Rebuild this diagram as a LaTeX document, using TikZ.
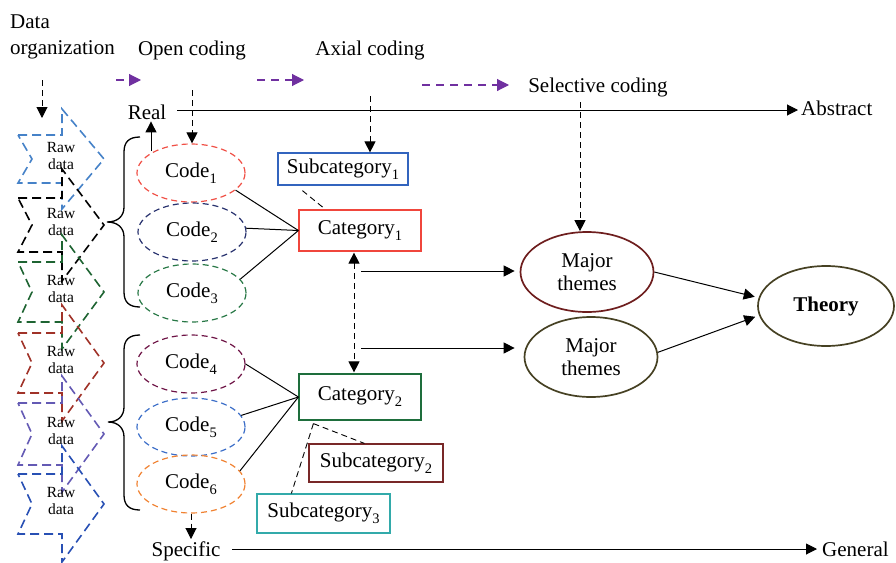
\documentclass[tikz,border=0pt]{standalone}
\usepackage{fontspec}
\setmainfont{Liberation Serif}
\usetikzlibrary{shapes.geometric,arrows.meta,calc}

\definecolor{cOne}{RGB}{240,80,70}
\definecolor{cTwo}{RGB}{40,50,110}
\definecolor{cThree}{RGB}{40,120,70}
\definecolor{cFour}{RGB}{110,20,70}
\definecolor{cFive}{RGB}{60,110,200}
\definecolor{cSix}{RGB}{240,130,50}
\definecolor{sOne}{RGB}{50,100,190}
\definecolor{kOne}{RGB}{240,70,60}
\definecolor{kTwo}{RGB}{30,110,60}
\definecolor{sTwo}{RGB}{120,40,40}
\definecolor{sThree}{RGB}{50,170,170}
\definecolor{tOne}{RGB}{110,30,30}
\definecolor{tTwo}{RGB}{70,65,35}
\definecolor{purp}{RGB}{112,48,160}
\definecolor{rBlue}{RGB}{70,130,200}
\definecolor{rGreen}{RGB}{30,100,50}
\definecolor{rRed}{RGB}{160,50,40}
\definecolor{rPurp}{RGB}{100,90,180}
\definecolor{rDark}{RGB}{40,80,180}

\newcommand\msz{\fontsize{21}{23}\selectfont}
\newcommand\sbs[1]{\raisebox{-6pt}{\fontsize{14.5}{14.5}\selectfont #1}}
\newcommand\rawshape[5]{%
  \draw[rawline, draw=#2] (18,#3-#4) -- (62,#3-#4) -- (62,#3-#5) -- (104,#3) -- (62,#3+#5) -- (62,#3+#4) -- (18,#3+#4) -- (32,#3) -- cycle;
  \node[rawtxt] (#1) at (61,#3-3) {Raw\\data};
}

\begin{document}
\begin{tikzpicture}[x=1pt,y=-1pt,
  lbl/.style={font=\msz, inner sep=0pt},
  blk/.style={line width=1pt, draw=black},
  tipA/.style={-{Triangle[length=11pt,width=11pt]}},
  dsh/.style={line width=1pt, dash pattern=on 6pt off 4pt, -{Triangle[length=11pt,width=11pt]}},
  dshTwo/.style={line width=1pt, dash pattern=on 6pt off 4pt, {Triangle[length=11pt,width=11pt]}-{Triangle[length=11pt,width=11pt]}},
  thin dsh/.style={line width=0.9pt, dash pattern=on 6pt off 4pt},
  purpArrow/.style={line width=1.1pt, draw=purp, dash pattern=on 8pt off 6pt, -{Triangle[length=12pt,width=12pt,fill=purp]}},
  codeE/.style={ellipse, draw=#1, dash pattern=on 6pt off 4pt, line width=1.2pt, minimum width=108pt, minimum height=58pt, inner sep=0pt, font=\msz},
  boxN/.style={rectangle, draw=#1, line width=1.2pt, inner sep=0pt, font=\msz},
  themeE/.style={ellipse, draw=#1, line width=1.7pt, minimum width=133pt, minimum height=80pt, inner sep=0pt, font=\msz, align=center},
  rawline/.style={line width=1.6pt, dash pattern=on 9pt off 5pt},
  rawtxt/.style={font=\fontsize{15.5}{17}\selectfont, align=center, inner sep=0pt},
  brc/.style={line width=1.3pt}
]
\useasboundingbox (0,0) rectangle (896,562);

% raw data shapes: name, colour, centre, body half-height, head half-height
\rawshape{rawA}{rBlue}{159}{24}{50}
\rawshape{rawB}{black}{225}{27}{56}
\rawshape{rawC}{rGreen}{292}{30}{57}
\rawshape{rawD}{rRed}{363}{30}{58}
\rawshape{rawE}{rPurp}{434}{31}{58}
\rawshape{rawF}{rDark}{504}{30}{58}

% headings
\node[lbl, anchor=north west, align=left, font=\fontsize{21}{26}\selectfont] (dorg) at (10,15) {Data\\organization};
\node[lbl, anchor=base] (open) at (192,55) {Open coding};
\node[lbl, anchor=base] (axial) at (370,55) {Axial coding};
\node[lbl, anchor=base] (selc) at (598,92) {Selective coding};
\node[lbl, anchor=base] (real) at (147,119) {Real};
\node[lbl, anchor=base west] (abs) at (801,115) {Abstract};
\node[lbl, anchor=base] (spec) at (186,556) {Specific};
\node[lbl, anchor=base west] (gen) at (822,556) {General};

% purple arrows
\coordinate (pa1) at (116,80); \coordinate (pb1) at (141,80);
\coordinate (pa2) at (257,80); \coordinate (pb2) at (304,80);
\coordinate (pa3) at (422,85); \coordinate (pb3) at (509,85);
\draw[purpArrow] (pa1) -- (pb1);
\draw[purpArrow] (pa2) -- (pb2);
\draw[purpArrow] (pa3) -- (pb3);

% codes
\node[codeE=cOne] (code1) at (191,173) {Code\sbs{1}};
\node[codeE=cTwo] (code2) at (192,232) {Code\sbs{2}};
\node[codeE=cThree] (code3) at (192,293) {Code\sbs{3}};
\node[codeE=cFour] (code4) at (191,364) {Code\sbs{4}};
\node[codeE=cFive] (code5) at (191,427) {Code\sbs{5}};
\node[codeE=cSix] (code6) at (191,484) {Code\sbs{6}};

% categories
\node[boxN=sOne, minimum width=130pt, minimum height=32pt] (sub1) at (343,169) {Subcategory\sbs{1}};
\node[boxN=kOne, minimum width=122pt, minimum height=41pt] (cat1) at (360,230.5) {Category\sbs{1}};
\node[boxN=kTwo, minimum width=122pt, minimum height=46pt] (cat2) at (360,397) {Category\sbs{2}};
\node[boxN=sTwo, minimum width=134pt, minimum height=38pt] (sub2) at (376,463) {Subcategory\sbs{2}};
\node[boxN=sThree, minimum width=133pt, minimum height=39pt] (sub3) at (323.5,513.5) {Subcategory\sbs{3}};

% themes
\node[themeE=tOne] (th1) at (587,272) {Major\\themes};
\node[themeE=tTwo] (th2) at (591,357) {Major\\themes};
\node[themeE=tTwo, minimum width=136pt, font=\bfseries\msz] (theory) at (826,306) {Theory};

% braces
\draw[brc] (140,137) .. controls (129,137) and (124,142) .. (124,152) -- (124,207)
  .. controls (124,216) and (118,222) .. (107,222)
  .. controls (118,222) and (124,228) .. (124,237) -- (124,292)
  .. controls (124,302) and (129,307) .. (140,307);
\draw[brc] (140,335) .. controls (129,335) and (124,340) .. (124,350) -- (124,407)
  .. controls (124,416) and (118,422) .. (108,422)
  .. controls (118,422) and (124,428) .. (124,437) -- (124,495)
  .. controls (124,505) and (129,510) .. (140,510);

% axis lines
\coordinate (rl) at (177,110);
\draw[blk, tipA, shorten >=3pt] (rl) -- (rl -| abs.west);
\coordinate (sl) at (232,549);
\draw[blk, tipA, shorten >=5pt] (sl) -- (sl -| gen.west);
\coordinate (rp) at (151,151);
\draw[blk, tipA, shorten >=2pt] (rp) -- (rp |- real.south);

% dashed black arrows
\coordinate (do) at (42,80); \coordinate (doe) at (42,118);
\draw[dsh] (do) -- (doe);
\coordinate (oc) at (192,90);
\draw[dsh] (oc) -- (oc |- code1.north);
\coordinate (ax) at (370,96);
\draw[dsh] (ax) -- (ax |- sub1.north);
\coordinate (sc) at (580,102);
\draw[dsh] (sc) -- (sc |- th1.north);
\draw[dsh, shorten >=2pt] (code6.south) -- (code6.south |- spec.north);

% codes to categories
\draw[blk] (code1.-21) -- (cat1.west);
\draw[blk] (code2.4) -- (cat1.west);
\draw[blk] (code3.16) -- (cat1.west);
\draw[blk] (code4.east) -- (cat2.west);
\draw[blk] (code5.13) -- (cat2.west);
\draw[blk] (code6.15) -- (cat2.west);

% subcategory links
\draw[thin dsh] ([xshift=25pt,yshift=-5pt]sub1.south west) -- ([xshift=27pt]cat1.north west);
\draw[thin dsh] ([xshift=15pt,yshift=-3pt]cat2.south west) -- ([xshift=56pt]sub2.north west);
\draw[thin dsh] ([xshift=15pt,yshift=-3pt]cat2.south west) -- ([xshift=35pt]sub3.north west);

% between categories
\draw[dshTwo, shorten <=1pt, shorten >=1pt] ([xshift=-6pt]cat1.south) -- ([xshift=-6pt]cat2.north);

% to themes
\coordinate (a1) at (361,271);
\draw[blk, tipA, shorten >=5pt] (a1) -- (a1 -| th1.west);
\coordinate (a2) at (361,348);
\draw[blk, tipA, shorten >=9pt] (a2) -- (a2 -| th2.west);
\draw[blk, tipA, shorten >=4pt] (th1.east) -- (theory.173);
\draw[blk, tipA, shorten >=4pt] (th2.4) -- (theory.188);
\end{tikzpicture}
\end{document}
